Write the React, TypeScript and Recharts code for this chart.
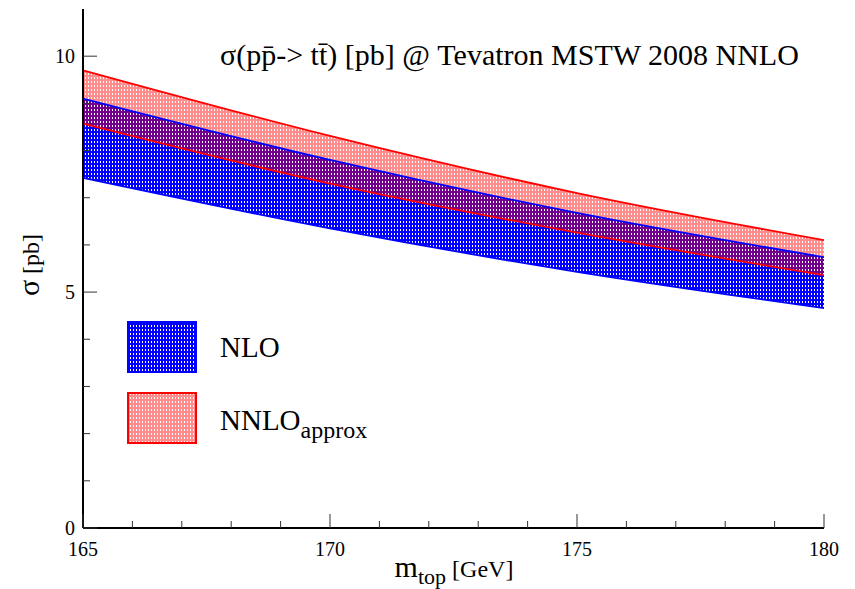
import { ComposedChart, Area, Line, XAxis, YAxis } from 'recharts';

// top mass points (GeV) and band edges (pb)
const mass = [165, 170, 175, 180];
const nloLow = [7.42, 6.35, 5.43, 4.66];
const nloHigh = [9.1, 7.8, 6.68, 5.74];
const nnloLow = [8.57, 7.3, 6.26, 5.36];
const nnloHigh = [9.7, 8.31, 7.1, 6.1];

const xTicks = [165, 166, 167, 168, 169, 170, 171, 172, 173, 174, 175, 176, 177, 178, 179, 180];
const xLabels = [165, 170, 175, 180];
const yTicks = [0, 1, 2, 3, 4, 5, 6, 7, 8, 9, 10];
const yLabels = [0, 5, 10];

const legendItems = [
  { name: 'NLO', sub: '', color: '#0000ff', fill: 'url(#bluePat)' },
  { name: 'NNLO', sub: 'approx', color: '#ff0000', fill: 'url(#redPat)' }
];

const serif = { fontFamily: '"Liberation Serif", "Times New Roman", serif' };
const TICK = '#333';

const data = mass.map((m, i) => ({
  m,
  nlo: [nloLow[i], nloHigh[i]],
  nnlo: [nnloLow[i], nnloHigh[i]],
  nloLow: nloLow[i],
  nloHigh: nloHigh[i],
  nnloLow: nnloLow[i],
  nnloHigh: nnloHigh[i]
}));

const BottomTick = (props: any) => {
  const { x, y, payload } = props;
  const major = xLabels.includes(payload.value);
  return (
    <g>
      <line x1={x} x2={x} y1={y} y2={y - (major ? 14 : 7)} stroke={TICK} />
      {major && (
        <text x={x} y={y + 28} textAnchor="middle" fontSize={20} style={serif} fill="#000">
          {payload.value}
        </text>
      )}
    </g>
  );
};

const TopTick = (props: any) => {
  const { x, y, payload } = props;
  const major = xLabels.includes(payload.value);
  return <line x1={x} x2={x} y1={y} y2={y + (major ? 14 : 7)} stroke={TICK} />;
};

const LeftTick = (props: any) => {
  const { x, y, payload } = props;
  const major = yLabels.includes(payload.value);
  return (
    <g>
      <line x1={x} x2={x + (major ? 14 : 7)} y1={y} y2={y} stroke={TICK} />
      {major && (
        <text x={x - 8} y={y + 7} textAnchor="end" fontSize={20} style={serif} fill="#000">
          {payload.value}
        </text>
      )}
    </g>
  );
};

const RightTick = (props: any) => {
  const { x, y, payload } = props;
  const major = yLabels.includes(payload.value);
  return <line x1={x} x2={x - (major ? 14 : 7)} y1={y} y2={y} stroke={TICK} />;
};

const frame = { stroke: '#000', strokeWidth: 2 };

export default function App() {
  return (
    <div style={{ position: 'absolute', left: 0, top: 0, width: 855, height: 589, background: '#fff' }}>
      <ComposedChart width={855} height={589} data={data} margin={{ top: 9, right: 31, bottom: 0, left: 0 }}>
        <defs>
          <pattern id="bluePat" width="3" height="4" patternUnits="userSpaceOnUse">
            <rect width="3" height="4" fill="#0000ff" />
            <rect x="1" y="1" width="1" height="2" fill="#ffffff" />
          </pattern>
          {/* red hatch leaves the same pixels open so the white dots stay visible */}
          <pattern id="redPat" width="3" height="4" patternUnits="userSpaceOnUse">
            <path d="M0 0H3V1H0Z M0 1H1V4H0Z M2 1H3V4H2Z M1 3H2V4H1Z" fill="#ff0000" fillOpacity={0.45} />
          </pattern>
        </defs>

        <XAxis xAxisId="b" dataKey="m" type="number" domain={[165, 180]} ticks={xTicks} interval={0}
          height={61} tickSize={0} tickMargin={0} tickLine={false} tick={BottomTick} axisLine={frame} />
        <XAxis xAxisId="t" orientation="top" dataKey="m" type="number" domain={[165, 180]} ticks={xTicks}
          interval={0} height={0} tickSize={0} tickMargin={0} tickLine={false} tick={TopTick} axisLine={frame} />
        <YAxis yAxisId="l" type="number" domain={[0, 11]} ticks={yTicks} interval={0} width={83}
          tickSize={0} tickMargin={0} tickLine={false} tick={LeftTick} axisLine={frame} />
        <YAxis yAxisId="r" orientation="right" type="number" domain={[0, 11]} ticks={yTicks} interval={0}
          width={0} tickSize={0} tickMargin={0} tickLine={false} tick={RightTick} axisLine={frame} />

        <Area xAxisId="b" yAxisId="l" type="monotone" dataKey="nlo" stroke="none" fill="url(#bluePat)"
          fillOpacity={1} isAnimationActive={false} dot={false} activeDot={false} />
        <Area xAxisId="b" yAxisId="l" type="monotone" dataKey="nnlo" stroke="none" fill="url(#redPat)"
          fillOpacity={1} isAnimationActive={false} dot={false} activeDot={false} />
        <Line xAxisId="b" yAxisId="l" type="monotone" dataKey="nloLow" stroke="#0000ff" strokeWidth={1.8}
          dot={false} activeDot={false} isAnimationActive={false} />
        <Line xAxisId="b" yAxisId="l" type="monotone" dataKey="nloHigh" stroke="#0000ff" strokeWidth={1.8}
          dot={false} activeDot={false} isAnimationActive={false} />
        <Line xAxisId="b" yAxisId="l" type="monotone" dataKey="nnloLow" stroke="#ff0000" strokeWidth={1.8}
          dot={false} activeDot={false} isAnimationActive={false} />
        <Line xAxisId="b" yAxisId="l" type="monotone" dataKey="nnloHigh" stroke="#ff0000" strokeWidth={1.8}
          dot={false} activeDot={false} isAnimationActive={false} />

        <text x={220} y={65} fontSize={30} style={serif} fill="#000">
          σ(pp̄-&gt; tt̄) [pb] @ Tevatron MSTW 2008 NNLO
        </text>

        <text x={454} y={577} textAnchor="middle" style={serif} fill="#000">
          <tspan fontSize={30}>m</tspan>
          <tspan fontSize={22} dy={7}>top</tspan>
          <tspan fontSize={24} dy={-7}> [GeV]</tspan>
        </text>

        <text x={39} y={265} transform="rotate(-90 39 265)" textAnchor="middle" style={serif} fill="#000">
          <tspan fontSize={30}>σ</tspan>
          <tspan fontSize={24}> [pb]</tspan>
        </text>

        {legendItems.map((item, i) => (
          <g key={item.name}>
            <rect x={128} y={322 + i * 71} width={68} height={50} fill={item.fill} stroke={item.color} strokeWidth={2} />
            <text x={220} y={357 + i * 73} fontSize={29} style={serif} fill="#000">
              {item.name}
              {item.sub && <tspan fontSize={24} dy={8}>{item.sub}</tspan>}
            </text>
          </g>
        ))}
      </ComposedChart>
    </div>
  );
}
